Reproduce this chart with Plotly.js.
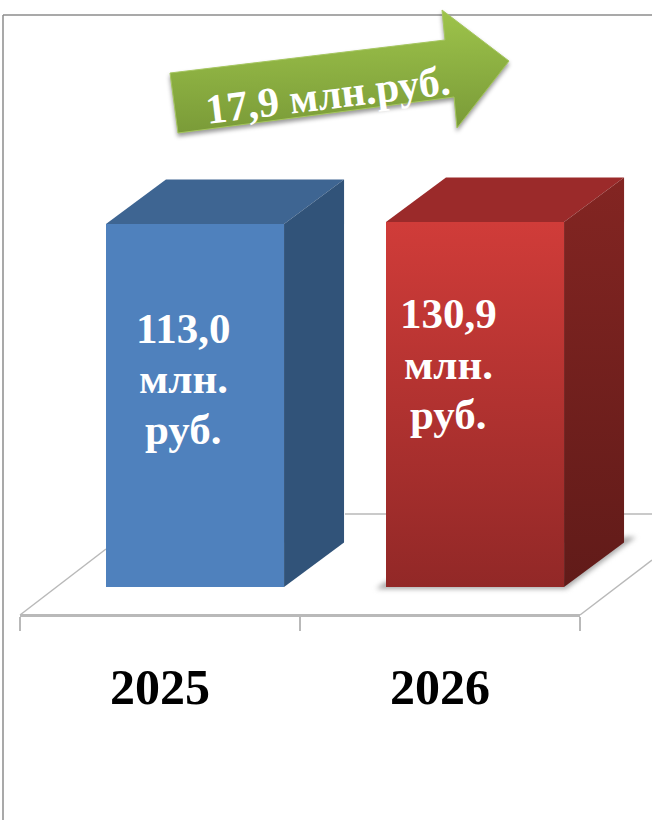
<!DOCTYPE html>
<html><head><meta charset="utf-8">
<script src="https://cdn.plot.ly/plotly-3.0.1.min.js"></script>
<style>html,body{margin:0;padding:0;background:#fff}#c{width:652px;height:820px}</style>
</head><body><div id="c"></div>
<script>
// --- data ---
const years = ['2025', '2026'];
const amounts = ['113,0', '130,9'];
const unitLine1 = 'млн.';
const unitLine2 = 'руб.';
const difference = '17,9 млн.руб.';
// drawn bar heights as pictured (the picture's bars are almost equal in height)
const drawnHeights = [113.0, 113.6];
const frontColors = ['#4f81bd', '#c0504d'];
const topColors = ['#3e6592', '#9b2a2a'];
const sideColors = ['#315379', '#6f1f1d'];

// --- layout helpers ---
const W = 652, H = 820;
const px = x => x / W, py = y => 1 - y / H;
const plotL = 20, plotR = 580, plotT = 15, plotB = 614, baseY = 587;
const unitX = (plotR - plotL) / 2, unitY = 363 / 113;
const barOffset = -0.193, barWidth = 0.636;
const depthX = 60 / unitX, depthY = 44.5 / unitY;

const x2range = [(0 - plotL) / unitX - 0.5, (W - plotL) / unitX - 0.5];
const y2range = [(baseY - H) / unitY, baseY / unitY];
const y1range = [(baseY - plotB) / unitY, (baseY - plotT) / unitY];

const traces = [{
  type: 'bar', x: years, y: drawnHeights, width: barWidth, offset: barOffset,
  marker: { color: frontColors, line: { width: 0 } }, hoverinfo: 'skip', showlegend: false
}];
years.forEach((yr, i) => {
  const l = i + barOffset, r = l + barWidth, h = drawnHeights[i];
  traces.push({ // top face
    type: 'scatter', mode: 'none', xaxis: 'x2', yaxis: 'y2', fill: 'toself',
    fillcolor: topColors[i], hoverinfo: 'skip', showlegend: false,
    x: [l, r, r + depthX, l + depthX, l], y: [h, h, h + depthY, h + depthY, h]
  });
  traces.push({ // side face
    type: 'scatter', mode: 'none', xaxis: 'x2', yaxis: 'y2', fill: 'toself',
    fillcolor: sideColors[i], hoverinfo: 'skip', showlegend: false,
    x: [r, r + depthX, r + depthX, r, r], y: [0, depthY, h + depthY, h, 0]
  });
});

const grey = '#b9b9b9';
const paperLine = (x0, y0, x1, y1, color, width, layer) => ({
  type: 'line', xref: 'paper', yref: 'paper', x0: px(x0), y0: py(y0), x1: px(x1), y1: py(y1),
  line: { color, width }, layer: layer || 'below'
});
const paperPath = pts => 'M' + pts.map(p => px(p[0]) + ',' + py(p[1])).join('L') + 'Z';

const arrowOutline = [[170, 73], [445, 40], [442, 10], [509, 61], [457, 128], [454, 97], [178, 133]];
const shadowOutline = [[376, 589], [566, 589], [636, 537], [624, 537], [562, 580], [385, 582]];

const shapes = [
  paperLine(3, 15, 3, H, '#8c8c8c', 1.5),
  paperLine(3, 15, W, 15, '#8c8c8c', 1.5),
  paperLine(345, 514, W, 514, grey, 1.5),
  paperLine(20, 615, 106, 549, grey, 1.5),
  paperLine(580, 615, W, 560, grey, 1.5),
  { type: 'path', xref: 'paper', yref: 'paper', layer: 'below', path: paperPath(shadowOutline),
    fillcolor: '#a9a9a9', line: { width: 0 } },
  { type: 'path', xref: 'paper', yref: 'paper', layer: 'above', path: paperPath(arrowOutline),
    fillcolor: '#8cb043', line: { color: '#a5c65f', width: 1 } }
];
const SHADOW_SHAPE = 5, ARROW_SHAPE = 6;

const serif = '"Liberation Serif", serif';
const labelFont = { family: serif, size: 43, color: '#ffffff', weight: 700 };
const labelX = [(183 - plotL) / unitX - 0.5, (448 - plotL) / unitX - 0.5];
const labelCentres = [[328, 378, 429], [313, 364, 414]];
const annotations = [];
years.forEach((yr, i) => {
  [amounts[i], unitLine1, unitLine2].forEach((t, k) => annotations.push({
    xref: 'x', yref: 'y', x: labelX[i], y: (baseY - labelCentres[i][k]) / unitY,
    xanchor: 'center', yanchor: 'middle', text: t, showarrow: false, font: labelFont
  }));
});
annotations.push({
  xref: 'paper', yref: 'paper', x: px(328), y: py(95), xanchor: 'center', yanchor: 'middle',
  text: difference, showarrow: false, textangle: -7,
  font: { family: serif, size: 42, color: '#ffffff', weight: 700 }
});

const layout = {
  width: W, height: H, margin: { l: 0, r: 0, t: 0, b: 0, pad: 0 },
  paper_bgcolor: '#ffffff', plot_bgcolor: 'rgba(0,0,0,0)', showlegend: false, bargap: 0,
  xaxis: {
    type: 'category', domain: [px(plotL), px(plotR)], range: [-0.5, 1.5], anchor: 'y',
    categoryorder: 'array', categoryarray: years, tickson: 'boundaries',
    ticks: 'outside', ticklen: 14, tickwidth: 1.5, tickcolor: grey,
    showline: true, linecolor: grey, linewidth: 2.5, showgrid: false, zeroline: false,
    tickfont: { family: serif, size: 50, color: '#000000', weight: 700 }, ticklabelstandoff: 27
  },
  yaxis: {
    domain: [py(plotB), py(plotT)], range: y1range, anchor: 'x', visible: false,
    showgrid: false, zeroline: false
  },
  xaxis2: { domain: [0, 1], range: x2range, anchor: 'y2', visible: false, fixedrange: true },
  yaxis2: { domain: [0, 1], range: y2range, anchor: 'x2', visible: false, fixedrange: true },
  shapes, annotations
};

function addGradient(svg, id, stops, vec) {
  const ns = 'http://www.w3.org/2000/svg';
  const g = document.createElementNS(ns, 'linearGradient');
  g.setAttribute('id', id);
  const v = vec || [0, 0, 0, 1];
  ['x1', 'y1', 'x2', 'y2'].forEach((k, i) => g.setAttribute(k, v[i]));
  stops.forEach(s => {
    const st = document.createElementNS(ns, 'stop');
    st.setAttribute('offset', s[0]); st.setAttribute('stop-color', s[1]); g.appendChild(st);
  });
  svg.querySelector('defs').appendChild(g);
}

Plotly.newPlot('c', traces, layout, { displayModeBar: false, staticPlot: true }).then(gd => {
  const svg = gd.querySelector('svg.main-svg');
  addGradient(svg, 'redFront', [[0, '#d03c39'], [1, '#922827']]);
  addGradient(svg, 'redSide', [[0, '#832522'], [1, '#611b19']]);
  addGradient(svg, 'arrowG', [[0, '#a0c64c'], [1, '#7a9b38']], [0.05, 0, 0.12, 1]);
  const bars = gd.querySelectorAll('.barlayer .point path');
  if (bars[1]) bars[1].style.fill = 'url(#redFront)';
  const tr = gd.querySelectorAll('.scatterlayer .trace');
  if (tr[3]) { const f = tr[3].querySelector('.js-fill'); if (f) f.style.fill = 'url(#redSide)'; }
  const arrow = gd.querySelector('.layer-above .shapelayer path[data-index="' + ARROW_SHAPE + '"]');
  if (arrow) { arrow.style.fill = 'url(#arrowG)'; arrow.style.fillOpacity = 1; arrow.style.filter = 'drop-shadow(0 3px 2px rgba(0,0,0,.4))'; }
  const shadow = gd.querySelector('.layer-below .shapelayer path[data-index="' + SHADOW_SHAPE + '"]');
  if (shadow) shadow.style.filter = 'blur(2.5px)';
});
</script></body></html>
